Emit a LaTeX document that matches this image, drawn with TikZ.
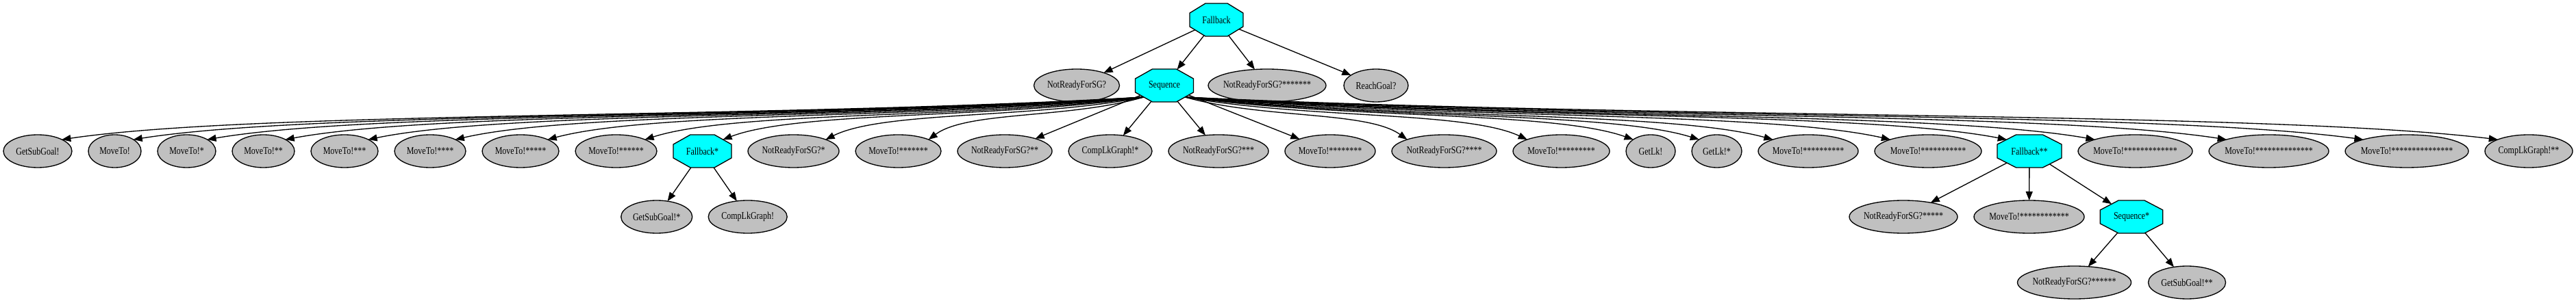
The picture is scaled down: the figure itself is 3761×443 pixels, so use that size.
\documentclass[tikz,border=0pt]{standalone}
\usepackage{fontspec}
\setmainfont{Liberation Serif}[FakeStretch=0.8]
\usepackage{graphicx}
\usetikzlibrary{shapes.geometric,arrows.meta}
\definecolor{leafgray}{RGB}{192,192,192}
\definecolor{ctrlcyan}{RGB}{0,255,255}
\newcommand\fsz{\fontsize{15pt}{18pt}\selectfont}
\newcommand\lf[4]{\node[leaf,minimum width=#3pt] (#1) at (#2) {\makebox[0pt]{#4}};}
\newcommand\oc[5]{\node[ctrl,xscale=#4] (#1) at (#2) {\scalebox{#5}[1]{#3}};}
\newcommand\seqL[2]{\draw[conn] (sq.south west) .. controls +({-0.35*#2},-32) and +({0.18*#2},42) .. (#1.north east);}
\newcommand\seqR[2]{\draw[conn] (sq.south east) .. controls +({0.35*#2},-32) and +({-0.18*#2},42) .. (#1.north west);}
\begin{document}
\begin{tikzpicture}[x=1pt,y=1pt,font=\fsz,
  leaf/.style={ellipse,draw=black,line width=1.33pt,fill=leafgray,minimum height=48pt,inner sep=0pt,outer sep=0pt},
  ctrl/.style={regular polygon,regular polygon sides=8,minimum size=51.95pt,inner sep=0pt,outer sep=0pt,draw=black,line width=1.33pt,fill=ctrlcyan},
  conn/.style={line width=1.33pt,-{Triangle[length=13pt,width=10pt]}}]
\fill[white] (0,0) rectangle (3761,-443);
\useasboundingbox (0,0) rectangle (3761,-443);
% rank 1
\oc{fb}{1776,-29}{Fallback}{1.625}{0.6154}
% rank 2
\lf{nr0}{1572,-125}{125}{NotReadyForSG?}
\oc{sq}{1700,-125}{Sequence}{1.7708}{0.5647}
\lf{nr7}{1850,-125}{172}{NotReadyForSG?*******}
\lf{rg}{2009,-125}{94}{ReachGoal?}
% rank 3
\lf{a1}{55,-221}{100}{GetSubGoal!}
\lf{a2}{167.5,-221}{77}{MoveTo!}
\lf{a3}{272.5,-221}{85}{MoveTo!*}
\lf{a4}{384.5,-221}{91}{MoveTo!**}
\lf{a5}{503,-221}{98}{MoveTo!***}
\lf{a6}{628,-221}{104}{MoveTo!****}
\lf{a7}{760,-221}{112}{MoveTo!*****}
\lf{a8}{899.5,-221}{119}{MoveTo!******}
\oc{a9}{1025.5,-221}{Fallback*}{1.7708}{0.5647}
\lf{a10}{1158.5,-221}{133}{NotReadyForSG?*}
\lf{a11}{1311.5,-221}{125}{MoveTo!*******}
\lf{a12}{1467,-221}{138}{NotReadyForSG?**}
\lf{a13}{1621,-221}{122}{CompLkGraph!*}
\lf{a14}{1779,-221}{146}{NotReadyForSG?***}
\lf{a15}{1942,-221}{132}{MoveTo!********}
\lf{a16}{2108.5,-221}{153}{NotReadyForSG?****}
\lf{a17}{2279.5,-221}{141}{MoveTo!*********}
\lf{a18}{2410,-221}{72}{GetLk!}
\lf{a19}{2506.5,-221}{73}{GetLk!*}
\lf{a20}{2640,-221}{146}{MoveTo!**********}
\lf{a21}{2815,-221}{156}{MoveTo!***********}
\oc{a22}{2963,-221}{Fallback**}{1.9583}{0.5106}
\lf{a23}{3117.5,-221}{167}{MoveTo!*************}
\lf{a24}{3312.5,-221}{175}{MoveTo!**************}
\lf{a25}{3514,-221}{180}{MoveTo!***************}
\lf{a26}{3692,-221}{128}{CompLkGraph!**}
% rank 4
\lf{b1}{958.7,-317}{104}{GetSubGoal!*}
\lf{b2}{1091.7,-317}{115}{CompLkGraph!}
\lf{c1}{2779,-317}{158}{NotReadyForSG?*****}
\lf{c2}{2962.5,-317}{161}{MoveTo!************}
\oc{sq2}{3112,-317}{Sequence*}{1.9063}{0.5246}
% rank 5
\lf{d1}{3028.5,-413}{166}{NotReadyForSG?******}
\lf{d2}{3193,-413}{113}{GetSubGoal!**}
% edges
\draw[conn] (fb) -- (nr0);
\draw[conn] (fb) -- (sq);
\draw[conn] (fb) -- (nr7);
\draw[conn] (fb) -- (rg);
\seqL{a1}{1580}
\seqL{a2}{1475}
\seqL{a3}{1367}
\seqL{a4}{1253}
\seqL{a5}{1132}
\seqL{a6}{1005}
\seqL{a7}{870}
\seqL{a8}{728}
\seqL{a9}{614}
\seqL{a10}{464}
\seqL{a11}{314}
\draw[conn] (sq) -- (a12);
\draw[conn] (sq) -- (a13);
\draw[conn] (sq) -- (a14);
\draw[conn] (sq) -- (a15);
\seqR{a16}{324}
\seqR{a17}{500}
\seqR{a18}{655}
\seqR{a19}{751}
\seqR{a20}{858}
\seqR{a21}{1030}
\seqR{a22}{1200}
\seqR{a23}{1328}
\seqR{a24}{1520}
\seqR{a25}{1720}
\seqR{a26}{1917}
\draw[conn] (a9) -- (b1);
\draw[conn] (a9) -- (b2);
\draw[conn] (a22) -- (c1);
\draw[conn] (a22) -- (c2);
\draw[conn] (a22) -- (sq2);
\draw[conn] (sq2) -- (d1);
\draw[conn] (sq2) -- (d2);
\end{tikzpicture}
\end{document}
